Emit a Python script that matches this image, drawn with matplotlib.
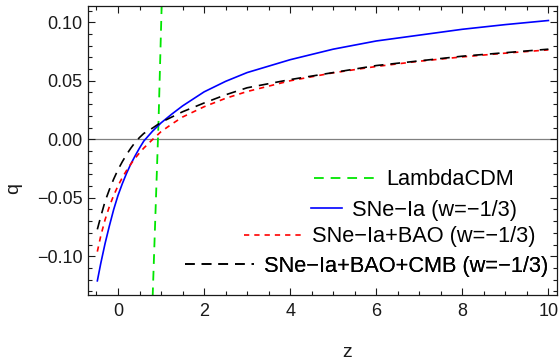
import numpy as np
import matplotlib
matplotlib.use("Agg")
import matplotlib.pyplot as plt
from matplotlib.ticker import MultipleLocator, FuncFormatter

plt.rcParams['font.family'] = ['Liberation Sans', 'DejaVu Sans']
plt.rcParams['lines.scale_dashes'] = False

# redshift grid
z = [-0.48, -0.4, -0.3, -0.2, -0.1, 0.0, 0.1, 0.2, 0.3, 0.4, 0.5, 0.6, 0.8, 1.0,
     1.25, 1.5, 2.0, 2.5, 3.0, 4.0, 5.0, 6.0, 7.0, 8.0, 9.0, 10.0]

q_sne = [-0.121, -0.106, -0.089, -0.074, -0.060, -0.048, -0.038, -0.029, -0.021, -0.014,
         -0.0075, -0.0015, 0.0068, 0.014, 0.0215, 0.0285, 0.0405, 0.0495, 0.057, 0.068,
         0.077, 0.084, 0.089, 0.094, 0.098, 0.1015]

q_bao = [-0.096, -0.0825, -0.0687, -0.0574, -0.0479, -0.0398, -0.0328, -0.0266, -0.0211, -0.0161,
         -0.0116, -0.0075, -0.0003, 0.0065, 0.013, 0.019, 0.0278, 0.035, 0.0408, 0.050,
         0.0568, 0.0622, 0.0667, 0.0704, 0.0736, 0.0764]

q_cmb = [-0.077, -0.066, -0.053, -0.043, -0.034, -0.026, -0.0192, -0.013, -0.0075, -0.0025,
         0.0015, 0.005, 0.0095, 0.0145, 0.019, 0.0235, 0.031, 0.038, 0.044, 0.051,
         0.057, 0.063, 0.067, 0.071, 0.074, 0.077]

# LambdaCDM line
z_lcdm = [0.805, 0.94, 1.015]
q_lcdm = [-0.135, 0.0128, 0.115]

labels = ["LambdaCDM", "SNe\u2212Ia (w=\u22121/3)", "SNe\u2212Ia+BAO (w=\u22121/3)",
          "SNe\u2212Ia+BAO+CMB (w=\u22121/3)"]

fig = plt.figure(figsize=(5.59, 3.6), dpi=100)
ax = fig.add_axes([88/559, 1-295/360, (557-88)/559, (295-6)/360])

ax.axhline(0, color='#808080', lw=0.9, zorder=1)

l0, = ax.plot(z_lcdm, q_lcdm, color='#00e600', lw=1.3, dashes=(7, 5))
l1, = ax.plot(z, q_sne, color='#0000ff', lw=1.2)
l2, = ax.plot(z, q_bao, color='#ff0000', lw=1.2, dashes=(3.8, 3.6))
l3, = ax.plot(z, q_cmb, color='#000000', lw=1.2, dashes=(7, 5))

ax.set_xlim(-0.697, 10.2)
ax.set_ylim(-0.1331, 0.1139)

ax.xaxis.set_major_locator(MultipleLocator(2))
ax.xaxis.set_minor_locator(MultipleLocator(0.5))
ax.yaxis.set_major_locator(MultipleLocator(0.05))
ax.yaxis.set_minor_locator(MultipleLocator(0.01))
ax.yaxis.set_major_formatter(FuncFormatter(lambda v, p: ('%.2f' % v).replace('-', '\u2212')
                                           if abs(v) > 1e-9 else '0.00'))
ax.xaxis.set_major_formatter(FuncFormatter(lambda v, p: '%d' % round(v)))

ax.tick_params(which='both', direction='in', top=True, right=True,
               labelsize=13, colors='#1a1a1a', width=0.8)
ax.tick_params(which='major', length=5)
ax.tick_params(which='minor', length=3)
ax.tick_params(axis='y', pad=4)
ax.tick_params(axis='x', pad=6)
for s in ax.spines.values():
    s.set_linewidth(0.9)
    s.set_color('#1a1a1a')

ax.set_xlabel("z", fontsize=14, color='#1a1a1a')
ax.set_ylabel("q", fontsize=14, color='#1a1a1a')
ax.xaxis.set_label_coords(0.552, -0.17)
ax.yaxis.set_label_coords(-0.14, 0.37)

# one legend per row, as in the reference
rows = [(l0, labels[0], 2.85, 0.482, 0.398),
        (l1, labels[1], 1.45, 0.475, 0.294),
        (l2, labels[2], 2.65, 0.333, 0.201),
        (l3, labels[3], 3.15, 0.207, 0.100)]
for h, lab, hl, bx, by in rows:
    leg = ax.legend([h], [lab], loc='center left', bbox_to_anchor=(bx, by),
                    frameon=False, fontsize=15.7, handlelength=hl, handletextpad=0.45,
                    borderpad=0, borderaxespad=0)
    ax.add_artist(leg)

fig.savefig("out.png", dpi=100)
